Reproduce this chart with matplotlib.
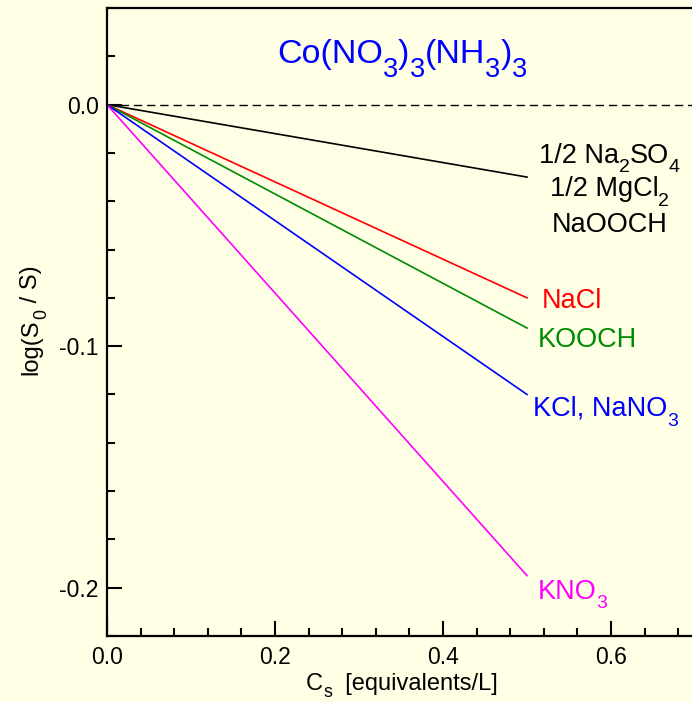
import matplotlib
matplotlib.use("Agg")
import matplotlib.pyplot as plt
from matplotlib.ticker import MultipleLocator
from matplotlib.transforms import offset_copy

plt.rcParams['font.family'] = ['Liberation Sans', 'DejaVu Sans']

# end points of the straight lines log(S0/S) vs Cs, all starting at (0, 0)
salts = ['1/2 Na2SO4, 1/2 MgCl2, NaOOCH', 'NaCl', 'KOOCH', 'KCl, NaNO3', 'KNO3']
x_end = [0.5, 0.5, 0.5, 0.5, 0.5]
y_end = [-0.030, -0.080, -0.0925, -0.120, -0.195]
colors = ['black', '#ff0000', '#008c00', '#0000ff', '#ff00ff']

# "_" marks a one-character subscript
labels = ['NaCl', 'KOOCH', 'KCl, NaNO_3', 'KNO_3']
label_x = [0.518, 0.513, 0.507, 0.513]
label_y = [-0.0843, -0.1004, -0.1289, -0.2045]
black_labels = ['1/2 Na_2SO_4', '1/2 MgCl_2', 'NaOOCH']
black_label_x = 0.598
black_label_y = [-0.0240, -0.0380, -0.0529]
title = 'Co(NO_3)_3(NH_3)_3'

bg = '#ffffe6'


def split_sub(s):
    parts = []
    segs = s.split('_')
    if segs[0]:
        parts.append((segs[0], False))
    for seg in segs[1:]:
        parts.append((seg[0], True))
        if seg[1:]:
            parts.append((seg[1:], False))
    return parts


def chem(ax, x, y, s, size, color, ha='left', trans=None, scale=0.72, drop=0.36, rot=0):
    # text with large, low subscripts, laid out piece by piece on the baseline
    fig = ax.figure
    r = fig.canvas.get_renderer()
    if trans is None:
        trans = ax.transData
    pieces = []
    for txt, sub in split_sub(s):
        fs = size * scale if sub else size
        t = ax.text(x, y, txt, fontsize=fs, color=color, ha='left', va='baseline',
                    rotation=rot, rotation_mode='anchor', transform=trans)
        bb = t.get_window_extent(r)
        w = (bb.height if rot else bb.width) * 72 / fig.dpi
        pieces.append((t, sub, w))
    total = sum(p[2] for p in pieces)
    cur = {'left': 0, 'center': -total / 2, 'right': -total}[ha]
    for t, sub, w in pieces:
        d = drop * size if sub else 0
        if rot:
            t.set_transform(offset_copy(trans, fig=fig, x=d, y=cur, units='points'))
        else:
            t.set_transform(offset_copy(trans, fig=fig, x=cur, y=-d, units='points'))
        cur += w


fig = plt.figure(figsize=(6.92, 7.02), dpi=100, facecolor=bg)
# right edge of the axes lies just past the picture, as in the original
ax = fig.add_axes([107 / 692, 66 / 702, 588 / 692, 628 / 702])
ax.set_facecolor(bg)

ax.set_xlim(0, 0.7)
ax.set_ylim(-0.22, 0.04)

ax.axhline(0, color='black', lw=1.0, ls=(0, (6, 3.5)))
for xe, ye, c in zip(x_end, y_end, colors):
    ax.plot([0, xe], [0, ye], color=c, lw=1.2)

for t, y in zip(black_labels, black_label_y):
    chem(ax, black_label_x, y, t, 19.5, 'black', ha='center')
for t, x, y, c in zip(labels, label_x, label_y, colors[1:]):
    chem(ax, x, y, t, 19.5, c)

chem(ax, 0.3512, 0.0174, title, 24.5, '#0000ff', ha='center', scale=0.8, drop=0.42)

ax.xaxis.set_major_locator(MultipleLocator(0.2))
ax.xaxis.set_minor_locator(MultipleLocator(0.04))
ax.yaxis.set_major_locator(MultipleLocator(0.1))
ax.yaxis.set_minor_locator(MultipleLocator(0.02))
ax.xaxis.set_major_formatter(lambda v, p: f'{v:.1f}')
ax.yaxis.set_major_formatter(lambda v, p: f'{v:.1f}')
ax.tick_params(which='both', direction='in', width=1.5, labelsize=16.5)
ax.tick_params(which='major', length=11)
ax.tick_params(which='minor', length=6)
ax.tick_params(axis='x', pad=7)
ax.tick_params(axis='y', pad=6)
for s in ax.spines.values():
    s.set_linewidth(1.6)

# axis titles
chem(ax, 0.5017, -0.0860, 'C_s  [equivalents/L]', 17, 'black', ha='center',
     trans=ax.transAxes, scale=0.75, drop=0.3)
chem(ax, -0.119, 0.503, 'log(S_0 / S)', 17, 'black', ha='center',
     trans=ax.transAxes, scale=0.75, drop=0.4, rot=90)

fig.savefig('out.png', dpi=100, facecolor=bg)
